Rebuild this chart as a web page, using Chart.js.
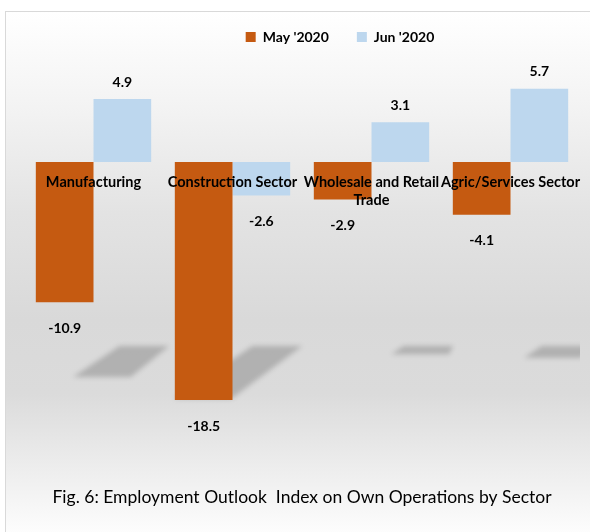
<!DOCTYPE html>
<html>
<head>
<meta charset="utf-8">
<script src="https://cdn.jsdelivr.net/npm/chart.js@4.4.1/dist/chart.umd.min.js"></script>
<style>
  html, body { margin: 0; padding: 0; width: 590px; height: 532px; overflow: hidden; background: #fff; }
  #frame {
    position: absolute; left: 5px; top: 11px; width: 660px; height: 530px;
    border: 1px solid #d9d9d9;
    background: linear-gradient(to bottom, #ffffff 0%, #f3f3f3 18%, #e3e3e3 38%, #d9d9d9 58%, #dbdbdb 72%, #ffffff 100%);
  }
  #myChart { position: absolute; left: 0; top: 0; }
</style>
</head>
<body>
<div id="frame"></div>
<canvas id="myChart" width="656" height="532"></canvas>
<script>
let sectors = ["Manufacturing", "Construction Sector", ["Wholesale and Retail", "Trade"], "Agric/Services Sector"];
let may2020 = [-10.9, -18.5, -2.9, -4.1];
let jun2020 = [4.9, -2.6, 3.1, 5.7];
let seriesNames = ["May '2020", "Jun '2020"];

const labelFont = "Lato";

// Excel-style perspective shadow under the May bars
const barShadows = {
  id: "barShadows",
  beforeDatasetsDraw(chart) {
    const ctx = chart.ctx;
    const area = chart.chartArea;
    const floorY = chart.scales.y.getPixelForValue(-14.3);
    ctx.save();
    ctx.beginPath();
    ctx.rect(area.left, area.top, area.right - area.left, area.bottom - area.top);
    ctx.clip();
    ctx.filter = "blur(2.5px)";
    ctx.fillStyle = "rgba(0,0,0,0.19)";
    chart.getDatasetMeta(0).data.forEach((bar) => {
      const len = bar.y - bar.base;
      if (len <= 0) return;
      const w = bar.width;
      const yb = floorY + 0.22 * len;
      const left = bar.x - w / 2 + 0.5 * (yb - bar.y);
      const shift = 1.5 * (yb - floorY);
      ctx.beginPath();
      ctx.moveTo(left, yb);
      ctx.lineTo(left + w, yb);
      ctx.lineTo(left + w + shift - 8, floorY);
      ctx.lineTo(left + shift, floorY);
      ctx.closePath();
      ctx.fill();
    });
    ctx.restore();
  }
};

const valueLabels = {
  id: "valueLabels",
  afterDatasetsDraw(chart) {
    const ctx = chart.ctx;
    ctx.save();
    ctx.font = "bold 14px " + labelFont;
    ctx.fillStyle = "#000";
    ctx.textAlign = "center";
    ctx.textBaseline = "middle";
    chart.data.datasets.forEach((ds, i) => {
      chart.getDatasetMeta(i).data.forEach((bar, j) => {
        const v = ds.data[j];
        const y = v >= 0 ? bar.y - 17 : bar.y + 26;
        ctx.fillText(v.toFixed(1), bar.x, y);
      });
    });
    ctx.restore();
  }
};

let myChart = document.getElementById("myChart").getContext("2d");

let outlookChart = new Chart(myChart, {
  type: "bar",
  data: {
    labels: sectors,
    datasets: [
      {
        label: seriesNames[0],
        data: may2020,
        backgroundColor: "#C55A11",
        categoryPercentage: 0.83,
        barPercentage: 1.0,
      },
      {
        label: seriesNames[1],
        data: jun2020,
        backgroundColor: "#BDD7EE",
        categoryPercentage: 0.83,
        barPercentage: 1.0,
      },
    ],
  },
  options: {
    responsive: false,
    animation: false,
    layout: {
      padding: { left: 24, right: 0, top: 2, bottom: 0 },
    },
    scales: {
      x: {
        position: { y: 0 },
        grid: { display: false, drawTicks: false },
        border: { display: false },
        ticks: {
          z: 1,
          color: "#000",
          padding: 12,
          maxRotation: 0,
          autoSkip: false,
          font: { family: labelFont, size: 14.5, weight: "bold" },
        },
      },
      y: {
        position: "right",
        min: -23,
        max: 8.4,
        grid: { display: false },
        border: { display: false },
        ticks: { display: false },
        afterFit(scale) {
          scale.width = 76;
        },
      },
    },
    plugins: {
      legend: {
        position: "top",
        labels: {
          boxWidth: 10,
          boxHeight: 10,
          padding: 28,
          color: "#000",
          font: { family: labelFont, size: 14, weight: "bold" },
        },
      },
      title: {
        display: true,
        position: "bottom",
        fullSize: false,
        text: "Fig. 6: Employment Outlook  Index on Own Operations by Sector",
        color: "#000",
        font: { family: labelFont, size: 17.5, weight: "normal" },
        padding: { top: 29, bottom: 24 },
      },
      tooltip: { enabled: false },
    },
  },
  plugins: [barShadows, valueLabels],
});
</script>
</body>
</html>
